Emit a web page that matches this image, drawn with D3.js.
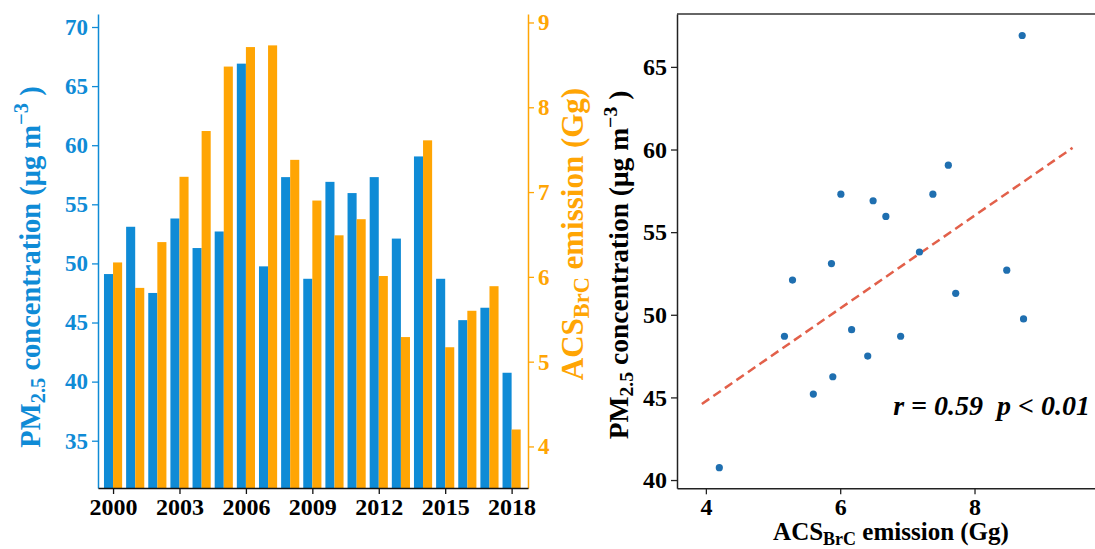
<!DOCTYPE html>
<html>
<head>
<meta charset="utf-8">
<script src="https://cdn.jsdelivr.net/npm/d3@7"></script>
<style>
  body { margin: 0; background: #fff; }
  svg text { font-family: 'Liberation Serif', 'Times New Roman', serif; font-weight: bold; }
</style>
</head>
<body>
<div id="chart"></div>
<script>
const years = d3.range(2000, 2019);
const pm25 = [49.1, 53.1, 47.5, 53.8, 51.3, 52.7, 66.9, 49.75, 57.3, 48.7,
  56.9, 55.95, 57.3, 52.1, 59.05, 48.7, 45.2, 46.25, 40.75];
const acsBrc = [6.17, 5.87, 6.41, 7.18, 7.72, 8.48, 8.71, 8.73, 7.38, 6.9,
  6.49, 6.68, 6.01, 5.29, 7.61, 5.17, 5.6, 5.89, 4.2];
const yearTicks = [2000, 2003, 2006, 2009, 2012, 2015, 2018];
const pmTicks = [35, 40, 45, 50, 55, 60, 65, 70];
const acsTicks = [4, 5, 6, 7, 8, 9];
const scatterXTicks = [4, 6, 8];
const scatterYTicks = [40, 45, 50, 55, 60, 65];
// fitted line end points
const fitX = [3.94, 9.46];
const fitY = [44.6, 60.1];

const blue = '#0f8bd6';
const orange = '#ffa504';
const width = 1095;
const height = 549;
const fmt = d3.format('d');

const svg = d3.select('#chart').append('svg')
  .attr('width', width)
  .attr('height', height);

// label with a subscript and optional superscript chunk
function richLabel(sel, parts) {
  parts.forEach((p) => {
    const t = sel.append('tspan').text(p.text);
    if (p.sub) t.attr('baseline-shift', '-25%').attr('font-size', '72%');
    if (p.sup) t.attr('baseline-shift', '55%').attr('font-size', '72%');
  });
}

const pmLabel = [
  { text: 'PM' }, { text: '2.5', sub: true },
  { text: ' concentration (μg m' }, { text: '−3', sup: true }, { text: ' )' },
];
const acsLabel = [
  { text: 'ACS' }, { text: 'BrC', sub: true }, { text: ' emission (Gg)' },
];

// ---- left panel: bars ----
const left = { x0: 98, x1: 528, top: 14, bottom: 488 };

const xYear = d3.scaleLinear()
  .domain([1999.32, 2018.74])
  .range([left.x0, left.x1]);
const yPm = d3.scaleLinear()
  .domain([31, 71.1])
  .range([left.bottom, left.top]);
const yAcs = d3.scaleLinear()
  .domain([3.51, 9.1])
  .range([left.bottom, left.top]);

const barW = xYear(2000.41) - xYear(2000);

const bars = svg.append('g');
bars.selectAll('.pm')
  .data(years)
  .enter().append('rect')
  .attr('class', 'pm')
  .attr('fill', blue)
  .attr('x', d => xYear(d) - barW)
  .attr('width', barW)
  .attr('y', (d, i) => yPm(pm25[i]))
  .attr('height', (d, i) => left.bottom - yPm(pm25[i]));
bars.selectAll('.acs')
  .data(years)
  .enter().append('rect')
  .attr('class', 'acs')
  .attr('fill', orange)
  .attr('x', d => xYear(d))
  .attr('width', barW)
  .attr('y', (d, i) => yAcs(acsBrc[i]))
  .attr('height', (d, i) => left.bottom - yAcs(acsBrc[i]));

const axL = svg.append('g')
  .attr('transform', `translate(${left.x0},0)`)
  .call(d3.axisLeft(yPm).tickValues(pmTicks).tickFormat(fmt)
    .tickSize(6).tickPadding(4).tickSizeOuter(0));
axL.select('.domain').attr('stroke', blue).attr('stroke-width', 1.5);
axL.selectAll('.tick line').attr('stroke', blue).attr('stroke-width', 1.3);
axL.selectAll('.tick text').attr('fill', blue).attr('font-size', 23);

const axR = svg.append('g')
  .attr('transform', `translate(${left.x1},0)`)
  .call(d3.axisRight(yAcs).tickValues(acsTicks).tickFormat(fmt)
    .tickSize(6).tickPadding(4).tickSizeOuter(0));
axR.select('.domain').attr('stroke', orange).attr('stroke-width', 1.5);
axR.selectAll('.tick line').attr('stroke', orange).attr('stroke-width', 1.3);
axR.selectAll('.tick text').attr('fill', orange).attr('font-size', 23);

const axB = svg.append('g')
  .attr('transform', `translate(0,${left.bottom})`)
  .call(d3.axisBottom(xYear).tickValues(yearTicks).tickFormat(fmt)
    .tickSize(6).tickPadding(4).tickSizeOuter(0));
axB.select('.domain').attr('stroke', '#111').attr('stroke-width', 1.5);
axB.selectAll('.tick line').attr('stroke', '#111').attr('stroke-width', 1.3);
axB.selectAll('.tick text').attr('fill', '#000').attr('font-size', 24);

svg.append('text')
  .attr('transform', 'translate(40,267) rotate(-90)')
  .attr('text-anchor', 'middle')
  .attr('fill', blue)
  .attr('font-size', 28.5)
  .call(richLabel, pmLabel);

svg.append('text')
  .attr('transform', 'translate(583,234) rotate(-90)')
  .attr('text-anchor', 'middle')
  .attr('fill', orange)
  .attr('font-size', 31)
  .call(richLabel, acsLabel);

// ---- right panel: scatter ----
const right = { x0: 677, x1: 1095.4, top: 14, bottom: 488.3 };

const xAcs = d3.scaleLinear()
  .domain([3.57, 9.8])
  .range([right.x0, right.x1]);
const ySc = d3.scaleLinear()
  .domain([39.5, 68.2])
  .range([right.bottom, right.top]);

const sc = svg.append('g');
sc.append('line')
  .attr('x1', right.x0).attr('x2', width)
  .attr('y1', right.top).attr('y2', right.top)
  .attr('stroke', '#333').attr('stroke-width', 1.5);

const sAxB = sc.append('g')
  .attr('transform', `translate(0,${right.bottom})`)
  .call(d3.axisBottom(xAcs).tickValues(scatterXTicks).tickFormat(fmt)
    .tickSize(6).tickPadding(4).tickSizeOuter(0));
const sAxL = sc.append('g')
  .attr('transform', `translate(${right.x0},0)`)
  .call(d3.axisLeft(ySc).tickValues(scatterYTicks).tickFormat(fmt)
    .tickSize(6).tickPadding(4).tickSizeOuter(0));
[sAxB, sAxL].forEach((a) => {
  a.select('.domain').attr('stroke', '#222').attr('stroke-width', 1.5);
  a.selectAll('.tick line').attr('stroke', '#222').attr('stroke-width', 1.3);
  a.selectAll('.tick text').attr('fill', '#000').attr('font-size', 24);
});

const line = d3.line()
  .x(d => xAcs(d[0]))
  .y(d => ySc(d[1]));
sc.append('path')
  .datum(fitX.map((x, i) => [x, fitY[i]]))
  .attr('d', line)
  .attr('fill', 'none')
  .attr('stroke', '#e2604a')
  .attr('stroke-width', 2.5)
  .attr('stroke-dasharray', '9,5');

sc.selectAll('.dot')
  .data(years)
  .enter().append('circle')
  .attr('class', 'dot')
  .attr('cx', (d, i) => xAcs(acsBrc[i]))
  .attr('cy', (d, i) => ySc(pm25[i]))
  .attr('r', 3.6)
  .attr('fill', '#1f6fb0');

sc.append('text')
  .attr('x', 1090)
  .attr('y', 415)
  .attr('text-anchor', 'end')
  .attr('font-style', 'italic')
  .attr('font-size', 28)
  .attr('xml:space', 'preserve')
  .text('r = 0.59  p < 0.01');

svg.append('text')
  .attr('transform', 'translate(628,265) rotate(-90)')
  .attr('text-anchor', 'middle')
  .attr('fill', '#000')
  .attr('font-size', 27.5)
  .call(richLabel, pmLabel);

svg.append('text')
  .attr('x', 891)
  .attr('y', 540)
  .attr('text-anchor', 'middle')
  .attr('fill', '#000')
  .attr('font-size', 25)
  .call(richLabel, acsLabel);
</script>
</body>
</html>
